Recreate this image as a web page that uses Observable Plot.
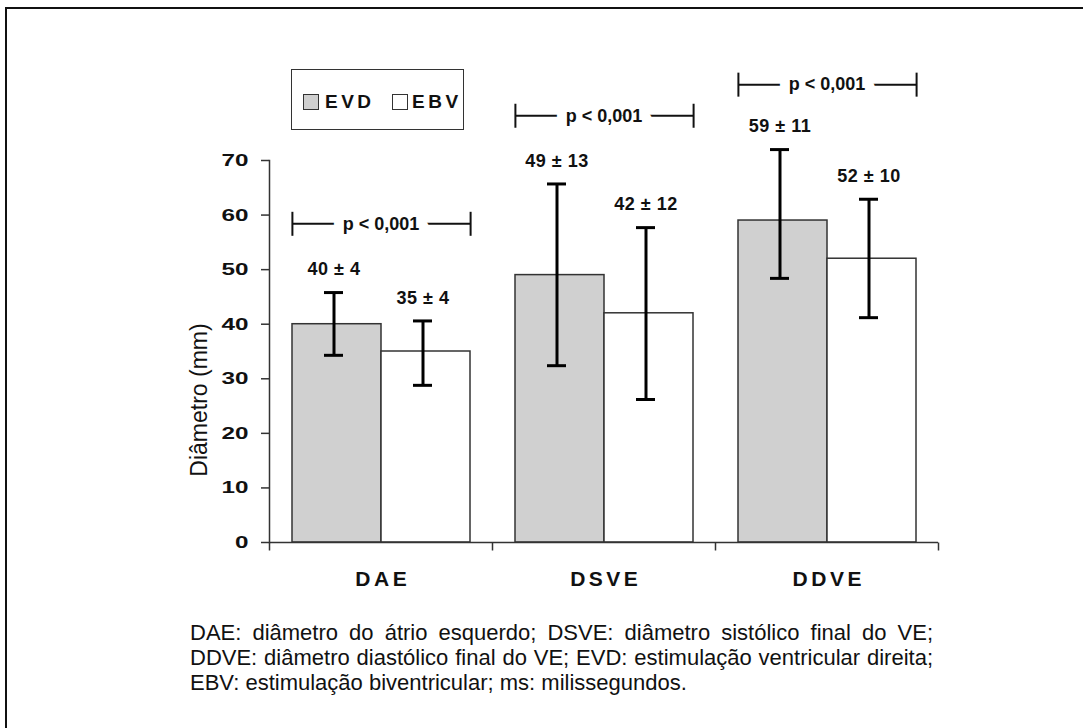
<!DOCTYPE html>
<html><head><meta charset="utf-8">
<script src="https://cdn.jsdelivr.net/npm/d3@7"></script>
<script src="https://cdn.jsdelivr.net/npm/@observablehq/plot@0.6"></script>
<style>
body{margin:0;background:#fff;font-family:"Liberation Sans",Arial,sans-serif;color:#111;}
#wrap{position:relative;width:1083px;height:728px;overflow:hidden;background:#fff;}
#border{position:absolute;left:5px;top:7px;width:2000px;height:2000px;border-left:2px solid #111;border-top:2px solid #111;}
#chart{position:absolute;left:0;top:0;}
#legend{position:absolute;left:291px;top:69px;width:171px;height:59px;border:1.5px solid #333;background:#fff;}
.sw{position:absolute;width:14px;height:14px;border:1.5px solid #333;top:24px;}
.lt{position:absolute;top:21px;font-weight:bold;font-size:19px;letter-spacing:3.5px;line-height:22px;}
#ylabel{position:absolute;left:199px;top:400px;transform:translate(-50%,-50%) rotate(-90deg);font-size:23px;white-space:nowrap;line-height:24px;}
#caption{position:absolute;left:190px;top:620px;width:743px;font-size:22px;line-height:25px;}
.jl{text-align:justify;text-align-last:justify;white-space:nowrap;}
</style>
</head><body>
<div id="wrap">
  <div id="border"></div>
  <div id="chart"></div>
  <div id="legend"></div>
  <div id="ylabel"></div>
  <div id="caption"></div>
</div>
<script>
const categories = ["DAE", "DSVE", "DDVE"];
const groups = ["EVD", "EBV"];
const groupFill = ["#d0d0d0", "#ffffff"];
const evdMean = [40, 49, 59];
const ebvMean = [35, 42, 52];
const evdLow = [34.3, 32.4, 48.4];
const evdHigh = [45.8, 65.7, 72.0];
const ebvLow = [28.8, 26.2, 41.2];
const ebvHigh = [40.6, 57.7, 62.9];
const evdLabel = ["40 ± 4", "49 ± 13", "59 ± 11"];
const ebvLabel = ["35 ± 4", "42 ± 12", "52 ± 10"];
const pText = ["p < 0,001", "p < 0,001", "p < 0,001"];
const pLevel = [58.4, 78.2, 83.9];
const yTicks = [0, 10, 20, 30, 40, 50, 60, 70];
const yTitle = "Diâmetro (mm)";
const captionLines = [
  "DAE: diâmetro do átrio esquerdo; DSVE: diâmetro sistólico final do VE;",
  "DDVE: diâmetro diastólico final do VE; EVD: estimulação ventricular direita;",
  "EBV: estimulação biventricular; ms: milissegundos."
];

const rows = categories.flatMap((c, i) => [
  {cat: c, grp: groups[0], mean: evdMean[i], low: evdLow[i], high: evdHigh[i], label: evdLabel[i]},
  {cat: c, grp: groups[1], mean: ebvMean[i], low: ebvLow[i], high: ebvHigh[i], label: ebvLabel[i]}
]);
const brackets = categories.map((c, i) => ({cat: c, y: pLevel[i], text: pText[i]}));

const W = 1083, H = 610, mL = 269, mR = 145, mT = 160, mB = 68;
const outerPad = 0.25;
const facetW = (W - mL - mR) / categories.length;
const bw = facetW / (groups.length + 2 * outerPad);
const vbar = {draw(ctx, size) { const r = Math.sqrt(size / Math.PI); ctx.moveTo(0, -r); ctx.lineTo(0, r); }};

const chart = Plot.plot({
  width: W, height: H, marginLeft: mL, marginRight: mR, marginTop: mT, marginBottom: mB,
  style: {fontFamily: '"Liberation Sans", Arial, sans-serif', background: "transparent", overflow: "visible", color: "#111"},
  fx: {domain: categories, padding: 0, axis: null},
  x: {domain: groups, paddingInner: 0, paddingOuter: outerPad, axis: null},
  y: {domain: [0, 70]},
  color: {domain: groups, range: groupFill},
  marks: [
    Plot.barY(rows, {fx: "cat", x: "grp", y: "mean", fill: "grp", stroke: "#333", strokeWidth: 1.5}),
    Plot.ruleY([0], {stroke: "#333", strokeWidth: 1.5}),
    Plot.frame({anchor: "left", facetAnchor: "left", stroke: "#333", strokeWidth: 1.5}),
    Plot.dot(categories, {fx: d => d, frameAnchor: "bottom-left", symbol: vbar, r: 4, dy: 4, stroke: "#333", strokeWidth: 1.5, fill: "none"}),
    Plot.dot([categories[categories.length - 1]], {fx: d => d, frameAnchor: "bottom-right", symbol: vbar, r: 4, dy: 4, stroke: "#333", strokeWidth: 1.5, fill: "none"}),
    Plot.axisY({ticks: yTicks, tickSize: 8, tickPadding: 13, tickFormat: d => String(d), label: null, fontSize: 17, fontWeight: "bold", stroke: "#333", strokeWidth: 1.5}),
    Plot.ruleX(rows, {fx: "cat", x: "grp", y1: "low", y2: "high", stroke: "#000", strokeWidth: 3, dx: -3}),
    Plot.tickY(rows, {fx: "cat", x: "grp", y: "low", stroke: "#000", strokeWidth: 3, insetLeft: 35, insetRight: 35, dx: -3}),
    Plot.tickY(rows, {fx: "cat", x: "grp", y: "high", stroke: "#000", strokeWidth: 3, insetLeft: 35, insetRight: 35, dx: -3}),
    Plot.text(rows, {fx: "cat", x: "grp", y: "high", text: "label", dy: -23, dx: -3, fontSize: 18, fontWeight: "bold", fill: "#111"}),
    Plot.ruleY(brackets, {fx: "cat", y: "y", x1: () => groups[0], x2: () => groups[1], stroke: "#111", strokeWidth: 2}),
    Plot.dot(brackets, {fx: "cat", y: "y", x: () => groups[0], dx: -bw / 2, r: 12, symbol: vbar, stroke: "#111", strokeWidth: 2, fill: "none"}),
    Plot.dot(brackets, {fx: "cat", y: "y", x: () => groups[1], dx: bw / 2, r: 12, symbol: vbar, stroke: "#111", strokeWidth: 2, fill: "none"}),
    Plot.text(brackets, {fx: "cat", y: "y", text: "text", fontSize: 18, fontWeight: "bold", fill: "#111", stroke: "white", strokeWidth: 20}),
    Plot.text(categories, {fx: d => d, text: d => d, frameAnchor: "bottom", dy: 43, fontSize: 21, fontWeight: "bold", fill: "#111"})
  ]
});
const valueLabels = evdLabel.concat(ebvLabel);
chart.querySelectorAll("text").forEach(t => {
  const s = t.textContent;
  if (categories.includes(s)) { t.style.letterSpacing = "3.5px"; t.setAttribute("dx", "1.75"); }
  else if (valueLabels.includes(s)) { t.style.letterSpacing = "0.5px"; }
});
chart.querySelectorAll('g[aria-label="y-axis tick label"] text').forEach(t => {
  t.setAttribute("textLength", 13.5 * t.textContent.length);
  t.setAttribute("lengthAdjust", "spacingAndGlyphs");
});
document.getElementById("chart").appendChild(chart);

// legend
const leg = document.getElementById("legend");
const legX = [{sw: 11, tx: 33}, {sw: 100, tx: 120}];
groups.forEach((g, i) => {
  const s = document.createElement("div");
  s.className = "sw"; s.style.left = legX[i].sw + "px"; s.style.background = groupFill[i];
  leg.appendChild(s);
  const t = document.createElement("div");
  t.className = "lt"; t.style.left = legX[i].tx + "px"; t.textContent = g;
  leg.appendChild(t);
});
document.getElementById("ylabel").textContent = yTitle;
const cap = document.getElementById("caption");
captionLines.forEach((l, i) => {
  const d = document.createElement("div");
  if (i < captionLines.length - 1) d.className = "jl";
  d.textContent = l;
  cap.appendChild(d);
});
</script>
</body></html>
